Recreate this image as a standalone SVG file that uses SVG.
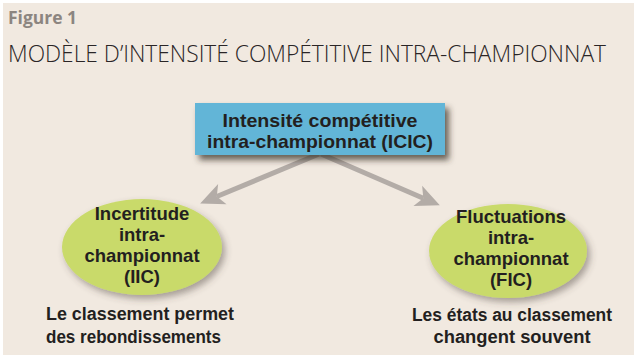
<svg xmlns="http://www.w3.org/2000/svg" width="634" height="355" viewBox="0 0 634 355">
<style>
.bg{fill:#f1e9e0}
.fig{font-family:"Open Sans","Liberation Sans",sans-serif;font-weight:700;font-size:17px;fill:#8c8580}
.title{font-family:"Open Sans","Liberation Sans",sans-serif;font-weight:300;font-size:23px;fill:#2a2526}
.lbl{font-family:"Liberation Sans",Arial,sans-serif;font-weight:700;font-size:18.5px;fill:#231f20;text-anchor:middle}
.sub{font-family:"Liberation Sans",Arial,sans-serif;font-weight:700;font-size:17.5px;fill:#231f20}
.box{fill:#62b5d7}
.ell{fill:#c9da6b}
.conn{stroke:#b3aca7;stroke-width:5;fill:none}
</style>
<defs>
<filter id="sh1" x="-20%" y="-30%" width="150%" height="180%">
<feDropShadow dx="4" dy="5" stdDeviation="3" flood-color="#3a302c" flood-opacity="0.75"/>
</filter>
<filter id="sh2" x="-20%" y="-30%" width="150%" height="170%">
<feDropShadow dx="3" dy="4" stdDeviation="3.5" flood-color="#4a4038" flood-opacity="0.45"/>
</filter>
<marker id="ah" markerUnits="userSpaceOnUse" markerWidth="30" markerHeight="30" viewBox="-2 -14 30 28" refX="6" refY="0" orient="auto">
<path d="M0,-11 L24,0 L0,11 L6,0 Z" fill="#b3aca7"/>
</marker>
</defs>
<rect class="bg" x="3" y="3" width="631" height="352"/>
<text class="fig" x="8" y="24" textLength="69" lengthAdjust="spacingAndGlyphs">Figure 1</text>
<text class="title" x="8" y="62" textLength="598" lengthAdjust="spacingAndGlyphs">MODÈLE D’INTENSITÉ COMPÉTITIVE INTRA-CHAMPIONNAT</text>
<g id="connectors">
<line class="conn" x1="319" y1="154" x2="216.8" y2="196.5" marker-end="url(#ah)"/>
<line class="conn" x1="321" y1="154" x2="423.3" y2="198.2" marker-end="url(#ah)"/>
</g>
<g id="icic">
<rect class="box" x="195" y="103" width="250" height="52" filter="url(#sh1)"/>
<text class="lbl" x="320" y="127" textLength="195" lengthAdjust="spacingAndGlyphs">Intensité compétitive</text>
<text class="lbl" x="320" y="148" textLength="226" lengthAdjust="spacingAndGlyphs">intra-championnat (ICIC)</text>
</g>
<g id="iic">
<ellipse class="ell" cx="142" cy="247" rx="80" ry="48" filter="url(#sh2)"/>
<text class="lbl" x="142" y="220">Incertitude</text>
<text class="lbl" x="142" y="241">intra-</text>
<text class="lbl" x="142" y="262">championnat</text>
<text class="lbl" x="142" y="283">(IIC)</text>
<text class="sub" x="46" y="320" textLength="188" lengthAdjust="spacingAndGlyphs">Le classement permet</text>
<text class="sub" x="46" y="343" textLength="175" lengthAdjust="spacingAndGlyphs">des rebondissements</text>
</g>
<g id="fic">
<ellipse class="ell" cx="508" cy="251" rx="79" ry="47" filter="url(#sh2)"/>
<text class="lbl" x="511" y="223">Fluctuations</text>
<text class="lbl" x="511" y="244">intra-</text>
<text class="lbl" x="511" y="265">championnat</text>
<text class="lbl" x="511" y="286">(FIC)</text>
<text class="sub" x="512" y="321" text-anchor="middle" textLength="200" lengthAdjust="spacingAndGlyphs">Les états au classement</text>
<text class="sub" x="512" y="343" text-anchor="middle" textLength="157" lengthAdjust="spacingAndGlyphs">changent souvent</text>
</g>
</svg>
